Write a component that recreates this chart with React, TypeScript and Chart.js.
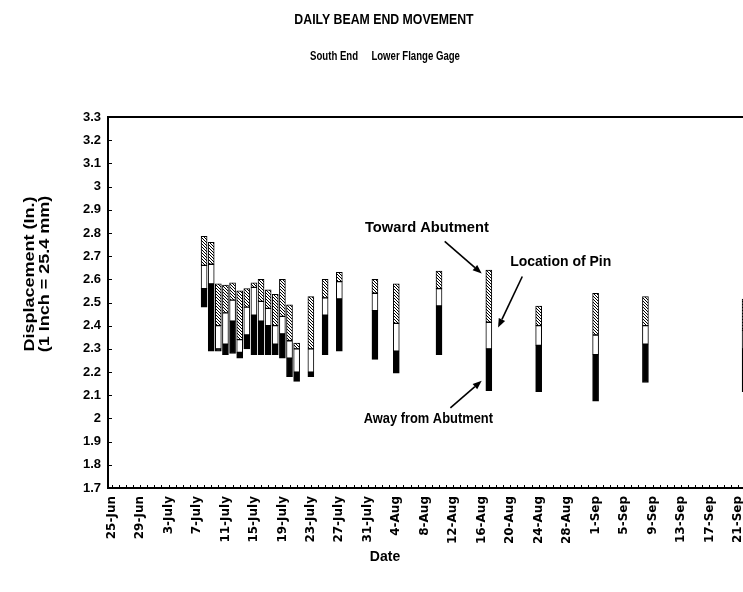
import React, { useEffect, useRef } from "react";
import { Chart, registerables } from "chart.js";

Chart.register(...registerables);

const W = 772;
const H = 592;
const FONT = "'Liberation Sans', Arial, Helvetica, sans-serif";
const XFONT = "'DejaVu Sans', 'Liberation Sans', sans-serif";

// Month spans used to build the daily category axis (25-Jun .. 25-Sep)
const months = [
  { name: "Jun", days: 30 },
  { name: "July", days: 31 },
  { name: "Aug", days: 31 },
  { name: "Sep", days: 30 },
];
const startDay = 25;
const dayCount = 93;

function buildCategories(): string[] {
  const out: string[] = [];
  let m = 0;
  let d = startDay;
  for (let i = 0; i < dayCount; i++) {
    out.push(`${d}-${months[m].name}`);
    d++;
    if (d > months[m].days) {
      d = 1;
      m++;
    }
  }
  return out;
}
const categories = buildCategories();

const tickLabels = [
  "25-Jun", "29-Jun", "3-July", "7-July", "11-July", "15-July", "19-July",
  "23-July", "27-July", "31-July", "4-Aug", "8-Aug", "12-Aug", "16-Aug",
  "20-Aug", "24-Aug", "28-Aug", "1-Sep", "5-Sep", "9-Sep", "13-Sep",
  "17-Sep", "21-Sep",
];

const yTickLabels = ["3.3", "3.2", "3.1", "3", "2.9", "2.8", "2.7", "2.6", "2.5", "2.4", "2.3", "2.2", "2.1", "2", "1.9", "1.8", "1.7"];

// Days with a reading
const barDates = [
  "8-July", "9-July", "10-July", "11-July", "12-July", "13-July", "14-July",
  "15-July", "16-July", "17-July", "18-July", "19-July", "20-July", "21-July",
  "23-July", "25-July", "27-July", "1-Aug", "4-Aug", "10-Aug", "17-Aug",
  "24-Aug", "1-Sep", "8-Sep", "22-Sep",
];
// Lowest displacement (away from abutment)
const awayLow = [
  2.48, 2.29, 2.29, 2.275, 2.28, 2.26, 2.30, 2.275, 2.275, 2.275, 2.275, 2.26,
  2.18, 2.16, 2.18, 2.275, 2.29, 2.255, 2.195, 2.275, 2.12, 2.115, 2.075, 2.155, 2.115,
];
// Lower edge of pin location
const pinLow = [
  2.56, 2.58, 2.30, 2.32, 2.42, 2.285, 2.36, 2.445, 2.42, 2.40, 2.32, 2.365,
  2.26, 2.20, 2.20, 2.445, 2.515, 2.465, 2.29, 2.485, 2.30, 2.315, 2.275, 2.32, 2.30,
];
// Upper edge of pin location
const pinHigh = [
  2.66, 2.665, 2.40, 2.455, 2.51, 2.34, 2.48, 2.565, 2.505, 2.475, 2.40, 2.44,
  2.335, 2.30, 2.30, 2.52, 2.59, 2.54, 2.41, 2.56, 2.415, 2.40, 2.36, 2.40, 2.38,
];
// Highest displacement (toward abutment)
const towardHigh = [
  2.785, 2.76, 2.58, 2.575, 2.585, 2.55, 2.56, 2.585, 2.60, 2.555, 2.535, 2.60,
  2.49, 2.325, 2.525, 2.60, 2.63, 2.60, 2.58, 2.635, 2.64, 2.485, 2.54, 2.525, 2.515,
];

// Callouts: text anchor and arrow (x in day index, y in inches)
const calloutTexts = ["Toward Abutment", "Location of Pin", "Away from Abutment"];
const calloutTextAt = [[44.3, 2.82], [63.1, 2.673], [44.5, 1.998]];
const calloutTextScale = [1.05, 1.0, 0.92];
const calloutArrowFrom = [[46.8, 2.764], [57.7, 2.612], [47.6, 2.046]];
const calloutArrowTo = [[52.0, 2.625], [54.3, 2.392], [52.0, 2.163]];

function floating(lo: number[], hi: number[]) {
  const arr: ([number, number] | null)[] = categories.map(() => null);
  barDates.forEach((d, i) => {
    const idx = categories.indexOf(d);
    if (idx >= 0) arr[idx] = [lo[i], hi[i]];
  });
  return arr;
}

function arrow(ctx: CanvasRenderingContext2D, x1: number, y1: number, x2: number, y2: number) {
  const ang = Math.atan2(y2 - y1, x2 - x1);
  const len = 9;
  const wid = 3.5;
  const bx = x2 - len * Math.cos(ang);
  const by = y2 - len * Math.sin(ang);
  ctx.beginPath();
  ctx.moveTo(x1, y1);
  ctx.lineTo(bx, by);
  ctx.lineWidth = 1.6;
  ctx.strokeStyle = "#000";
  ctx.stroke();
  ctx.beginPath();
  ctx.moveTo(x2, y2);
  ctx.lineTo(bx + wid * Math.sin(ang), by - wid * Math.cos(ang));
  ctx.lineTo(bx - wid * Math.sin(ang), by + wid * Math.cos(ang));
  ctx.closePath();
  ctx.fillStyle = "#000";
  ctx.fill();
}

function scaledText(ctx: CanvasRenderingContext2D, text: string, x: number, y: number, sx: number) {
  ctx.save();
  ctx.translate(x, y);
  ctx.scale(sx, 1);
  ctx.fillText(text, 0, 0);
  ctx.restore();
}

const decor = {
  id: "decor",
  afterDraw(chart: any) {
    const { ctx, chartArea, scales } = chart;
    const xs = scales.x;
    const ys = scales.y;
    ctx.save();
    // top frame line
    ctx.strokeStyle = "#000";
    ctx.lineWidth = 2;
    ctx.beginPath();
    ctx.moveTo(chartArea.left - 1, chartArea.top);
    ctx.lineTo(chartArea.right, chartArea.top);
    ctx.stroke();
    // inward tick marks
    ctx.lineWidth = 1;
    ys.ticks.forEach((t: any) => {
      const y = Math.round(ys.getPixelForValue(t.value)) + 0.5;
      ctx.beginPath();
      ctx.moveTo(chartArea.left, y);
      ctx.lineTo(chartArea.left + 4, y);
      ctx.stroke();
    });
    categories.forEach((_, i) => {
      const x = Math.round(xs.getPixelForValue(i)) + 0.5;
      ctx.beginPath();
      ctx.moveTo(x, chartArea.bottom);
      ctx.lineTo(x, chartArea.bottom - 3);
      ctx.stroke();
    });
    // titles
    ctx.fillStyle = "#000";
    ctx.textAlign = "center";
    ctx.textBaseline = "middle";
    ctx.font = `bold 15px ${FONT}`;
    scaledText(ctx, "DAILY BEAM END MOVEMENT", 384, 20, 0.82);
    ctx.font = `bold 12px ${FONT}`;
    scaledText(ctx, "South End     Lower Flange Gage", 385, 57, 0.8);
    ctx.font = `bold 14px ${FONT}`;
    ctx.fillText("Date", 385, 557);
    // y axis title
    ctx.save();
    ctx.translate(30, 274);
    ctx.rotate(-Math.PI / 2);
    ctx.scale(1.2, 1);
    ctx.font = `bold 15px ${FONT}`;
    ctx.fillText("Displacement (In.)", 0, 0);
    ctx.fillText("(1 Inch = 25.4 mm)", 0, 15);
    ctx.restore();
    // callouts
    ctx.font = `bold 14px ${FONT}`;
    calloutTexts.forEach((txt, i) => {
      const tx = xs.getPixelForValue(calloutTextAt[i][0]);
      const ty = ys.getPixelForValue(calloutTextAt[i][1]);
      ctx.fillStyle = "#000";
      scaledText(ctx, txt, tx, ty, calloutTextScale[i]);
      arrow(
        ctx,
        xs.getPixelForValue(calloutArrowFrom[i][0]),
        ys.getPixelForValue(calloutArrowFrom[i][1]),
        xs.getPixelForValue(calloutArrowTo[i][0]),
        ys.getPixelForValue(calloutArrowTo[i][1])
      );
    });
    ctx.restore();
  },
};

export default function App() {
  const ref = useRef<HTMLCanvasElement>(null);
  useEffect(() => {
    const canvas = ref.current;
    if (!canvas) return;
    const pc = document.createElement("canvas");
    pc.width = 3;
    pc.height = 3;
    const p = pc.getContext("2d")!;
    p.fillStyle = "#fff";
    p.fillRect(0, 0, 3, 3);
    p.fillStyle = "#000";
    p.fillRect(0, 0, 1, 1);
    p.fillRect(1, 1, 1, 1);
    p.fillRect(2, 2, 1, 1);
    const pattern = canvas.getContext("2d")!.createPattern(pc, "repeat")!;

    const common = {
      borderColor: "#000",
      borderWidth: 1,
      borderSkipped: false,
      grouped: false,
      barThickness: 6,
    };
    const chart = new Chart(canvas, {
      type: "bar",
      data: {
        labels: categories,
        datasets: [
          { label: "Away from Abutment", data: floating(awayLow, pinLow) as any, backgroundColor: "#000", ...common },
          { label: "Location of Pin", data: floating(pinLow, pinHigh) as any, backgroundColor: "#fff", ...common },
          { label: "Toward Abutment", data: floating(pinHigh, towardHigh) as any, backgroundColor: pattern as any, ...common },
        ],
      },
      options: {
        responsive: false,
        animation: false,
        devicePixelRatio: 1,
        layout: { padding: { left: 0, top: 117, right: 2, bottom: 0 } },
        plugins: {
          legend: { display: false },
          tooltip: { enabled: false },
          title: { display: false },
        },
        scales: {
          x: {
            type: "category",
            offset: true,
            grid: { display: true, drawOnChartArea: false, drawTicks: false },
            border: { display: true, color: "#000", width: 2 },
            ticks: {
              autoSkip: false,
              maxRotation: 90,
              minRotation: 90,
              padding: 8,
              color: "#000",
              font: { family: XFONT, size: 12, weight: "bold" as const },
              callback: (_v: any, i: number) => (tickLabels.includes(categories[i]) ? categories[i] : ""),
            },
            afterFit: (s: any) => {
              s.height = 104;
              s.paddingLeft = 0;
              s.paddingRight = 0;
            },
          },
          y: {
            min: 1.7,
            max: 3.3,
            grid: { display: true, drawOnChartArea: false, drawTicks: false },
            border: { display: true, color: "#000", width: 2 },
            ticks: {
              stepSize: 0.1,
              padding: 7,
              color: "#000",
              font: { family: FONT, size: 13, weight: "bold" as const },
              callback: (_v: any, i: number) => yTickLabels[yTickLabels.length - 1 - i],
            },
            afterFit: (s: any) => {
              s.width = 108;
              s.paddingTop = 0;
              s.paddingBottom = 0;
            },
          },
        },
      },
      plugins: [decor],
    });
    return () => chart.destroy();
  }, []);
  return (
    <div style={{ position: "fixed", left: 0, top: 0, width: "100vw", height: "100vh", overflow: "hidden", background: "#fff" }}>
      <canvas ref={ref} width={W} height={H} style={{ width: `${W}px`, height: `${H}px`, display: "block" }} />
    </div>
  );
}
